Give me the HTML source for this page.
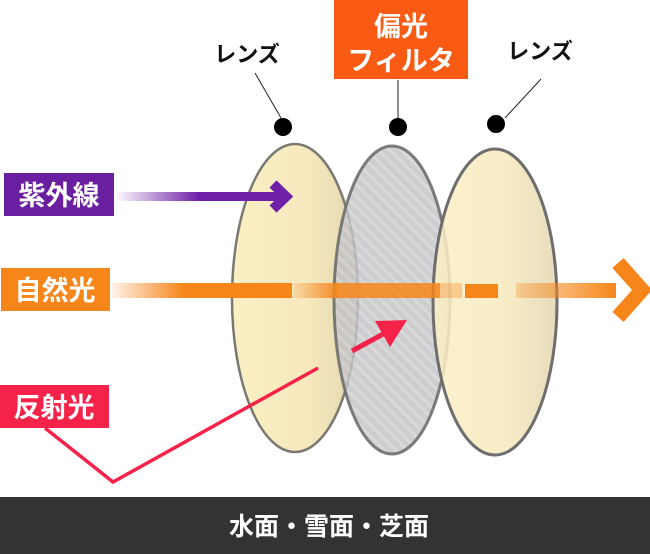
<!DOCTYPE html>
<html><head><meta charset="utf-8"><style>
html,body{margin:0;padding:0;background:#fff;}
svg{display:block;}
text{font-family:"Liberation Sans","Noto Sans CJK JP",sans-serif;font-weight:bold;}
</style></head><body>
<svg width="650" height="554" viewBox="0 0 650 554" xmlns="http://www.w3.org/2000/svg">
<defs>
<linearGradient id="uv" x1="0" x2="1"><stop offset="0" stop-color="#7020a8" stop-opacity="0"/><stop offset="0.5" stop-color="#7020a8"/><stop offset="1" stop-color="#7020a8"/></linearGradient>
<linearGradient id="or1" x1="0" x2="1"><stop offset="0" stop-color="#f7861a" stop-opacity="0.1"/><stop offset="0.4" stop-color="#f7861a"/><stop offset="1" stop-color="#f7861a"/></linearGradient>
<linearGradient id="or2" x1="0" x2="1"><stop offset="0" stop-color="#f7861a" stop-opacity="0.15"/><stop offset="1" stop-color="#f7861a" stop-opacity="0.9"/></linearGradient>
<linearGradient id="or3" x1="0" x2="1"><stop offset="0" stop-color="#f7861a" stop-opacity="0.3"/><stop offset="0.3" stop-color="#f7861a" stop-opacity="0.5"/><stop offset="1" stop-color="#f7861a"/></linearGradient>
<pattern id="hatch" width="8" height="8" patternUnits="userSpaceOnUse" patternTransform="rotate(-45)">
<rect width="8" height="8" fill="#c2c2c6"/><rect width="3" height="8" fill="#cfcfd3"/></pattern>
<linearGradient id="lens" x1="0" x2="1"><stop offset="0" stop-color="#fbefc4"/><stop offset="0.6" stop-color="#f7e9bd"/><stop offset="1" stop-color="#e2d6b0"/></linearGradient>
</defs>

<line x1="255" y1="73" x2="281" y2="118" stroke="#222" stroke-width="1"/>
<line x1="398" y1="80" x2="398" y2="118" stroke="#222" stroke-width="1"/>
<line x1="541" y1="79" x2="505" y2="118" stroke="#222" stroke-width="1"/>
<circle cx="283" cy="127" r="9" fill="#000"/>
<circle cx="398" cy="127" r="9" fill="#000"/>
<circle cx="496" cy="124" r="9" fill="#000"/>

<ellipse cx="295" cy="298" rx="63" ry="154" fill="url(#lens)" stroke="#7a7a72" stroke-width="2.5"/>
<ellipse cx="392" cy="300" rx="58" ry="154" fill="url(#hatch)" fill-opacity="0.8" stroke="#6e6e6e" stroke-width="3" stroke-opacity="0.9"/>
<ellipse cx="495" cy="302" rx="62" ry="153" fill="url(#lens)" fill-opacity="0.85" stroke="#6e6e6e" stroke-width="3"/>

<rect x="112" y="283" width="180" height="15" fill="url(#or1)"/>
<rect x="293" y="283" width="44" height="15" fill="url(#or2)"/>
<rect x="336" y="283" width="104" height="15" fill="#f7861a" opacity="0.85"/>
<rect x="440" y="283" width="22" height="15" fill="#f7861a" opacity="0.35"/>
<rect x="465" y="284" width="33" height="14" fill="#f7861a"/>
<rect x="516" y="283" width="100" height="15" fill="url(#or3)"/>
<polyline points="618,263 642,290 618,317" fill="none" stroke="#f7861a" stroke-width="15"/>

<rect x="115" y="192" width="167" height="9" fill="url(#uv)"/>
<polyline points="273,184 286,196.5 273,209" fill="none" stroke="#7020a8" stroke-width="10"/>

<polyline points="45,428 113,482 318,368" fill="none" stroke="#f5224a" stroke-width="3.5"/>
<line x1="352" y1="351" x2="385" y2="333" stroke="#f5224a" stroke-width="5"/>
<polygon points="375,321 407,320 390,347" fill="#f5224a"/>

<rect x="4" y="173" width="110" height="43" fill="#6a1fa0"/>
<text x="59" y="205" font-size="27" fill="#fff" text-anchor="middle">紫外線</text>
<rect x="1" y="268" width="109" height="43" fill="#f7861a"/>
<text x="55" y="300" font-size="27" fill="#fff" text-anchor="middle">自然光</text>
<rect x="0" y="385" width="109" height="43" fill="#f5224a"/>
<text x="54" y="417" font-size="27" fill="#fff" text-anchor="middle">反射光</text>

<rect x="334" y="0" width="134" height="79" fill="#f95a14"/>
<text x="401" y="36" font-size="27" fill="#fff" text-anchor="middle">偏光</text>
<text x="401" y="70" font-size="27" fill="#fff" text-anchor="middle">フィルタ</text>

<text x="247" y="62" font-size="22" fill="#111" text-anchor="middle">レンズ</text>
<text x="540" y="59" font-size="22" fill="#111" text-anchor="middle">レンズ</text>

<rect x="0" y="497" width="650" height="57" fill="#333"/>
<text x="329" y="535" font-size="25" fill="#fff" text-anchor="middle">水面・雪面・芝面</text>
</svg>
</body></html>
